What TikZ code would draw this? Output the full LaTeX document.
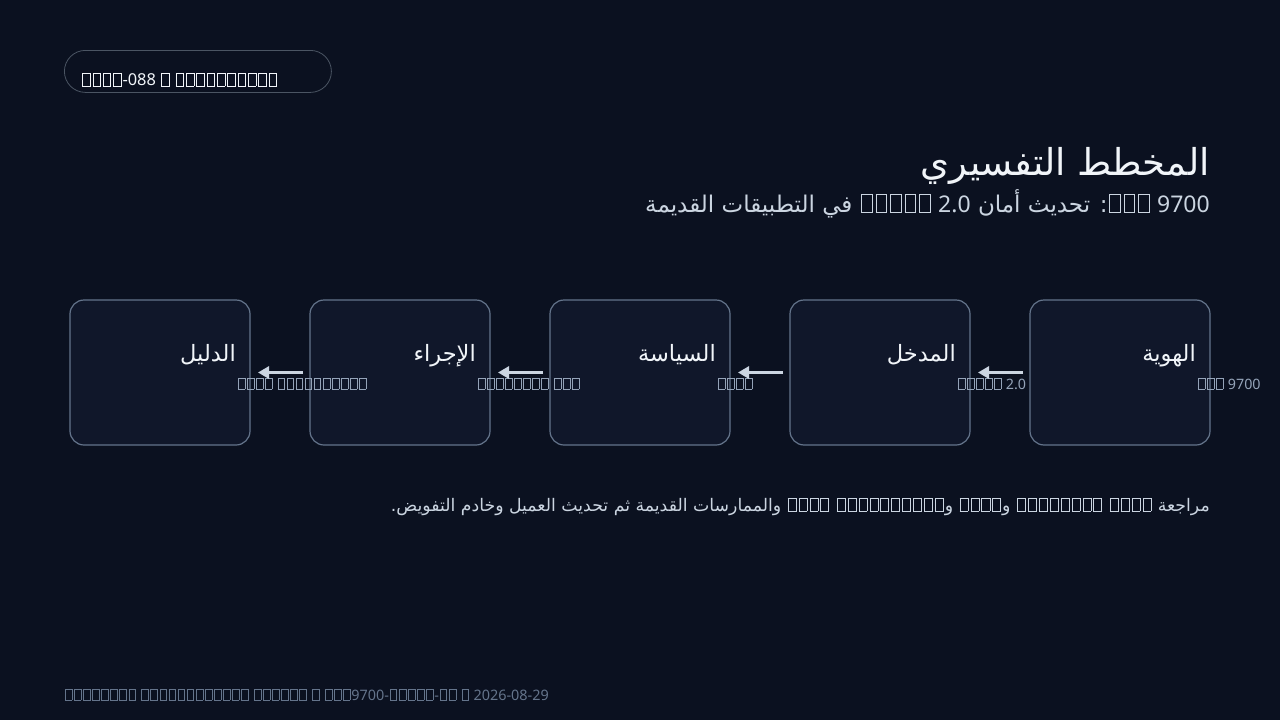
\documentclass[tikz,border=0pt]{standalone}
\usepackage{fontspec}
\setmainfont{Noto Sans}
\newfontfamily\arabicfont[Script=Arabic]{DejaVu Sans}
\TeXXeTstate=1
\usetikzlibrary{arrows.meta}
\usetikzlibrary{positioning}

\definecolor{bgcol}{HTML}{0B1120}
\definecolor{cardfill}{HTML}{10172A}
\definecolor{cardline}{HTML}{64748B}
\definecolor{pillline}{HTML}{4B5563}
\definecolor{arrowcol}{HTML}{CBD5E1}
\definecolor{titlecol}{HTML}{F1F5F9}
\definecolor{subcol}{HTML}{CBD5E1}
\definecolor{smallcol}{HTML}{94A3B8}
\definecolor{footcol}{HTML}{64748B}

% missing glyph box
\newcommand\tofu{{\fboxsep=0pt\fboxrule=0.045em\kern0.06em\fbox{\rule{0pt}{0.72em}\kern0.42em}\kern0.06em}}
\newcommand\tofus[1]{\foreach \t in {1,...,#1}{\tofu}}

\begin{document}
\begin{tikzpicture}[x=1pt,y=-1pt]
				\tikzstyle{card}=[draw=cardline,line width=1.2pt,fill=cardfill,rounded corners=14pt,minimum width=180pt,minimum height=145pt,inner sep=0pt,outer sep=0pt]
				\tikzstyle{cardtitle}=[text=titlecol,font=\fontsize{22.5}{26}\arabicfont,inner sep=0pt,anchor=base east]
				\tikzstyle{cardnote}=[text=smallcol,font=\fontsize{14.3}{17}\rmfamily,inner sep=0pt,anchor=base west]
				\tikzstyle{flow}=[draw=arrowcol,line width=3pt,-{Triangle[length=11pt,width=12pt]},shorten <=7pt,shorten >=8pt]
				\fill[bgcol] (0,0) rectangle (1280,720);
				\useasboundingbox (0,0) rectangle (1280,720);
				% tag
				\node[draw=pillline,line width=0.8pt,rounded corners=21pt,minimum width=267pt,minimum height=42pt,anchor=north west] (tag) at (64,50) {};
				\node[text=titlecol,font=\fontsize{16.4}{19}\rmfamily,inner sep=0pt,anchor=base west] (tagtext) at (81,85.5) {\tofus{4}-088 \tofu{} \tofus{10}};
				% heading
				\node[text=titlecol,font=\fontsize{37}{44}\arabicfont,inner sep=0pt,anchor=base east] (title) at (1210,175) {\beginR المخطط التفسيري\endR};
				\node[text=subcol,font=\fontsize{23}{28}\arabicfont,inner sep=0pt,anchor=base east] (subtitle) at (1210,212) {\beginR{\rmfamily\beginL\tofus{3} 9700\endL}: تحديث أمان {\rmfamily\beginL\tofus{5} 2.0\endL} في التطبيقات القديمة\endR};
				% cards
				\node[card] (hawiya) at (1120,372.5) {};
				\node[card,left=60pt of hawiya] (madkhal) {};
				\node[card,left=60pt of madkhal] (siyasa) {};
				\node[card,left=60pt of siyasa] (ijraa) {};
				\node[card,left=60pt of ijraa] (dalil) {};
				\node[cardtitle] (hawiyaT) at ([shift={(-14,61)}]hawiya.north east) {\beginR الهوية\endR};
				\node[cardtitle] (madkhalT) at ([shift={(-14,61)}]madkhal.north east) {\beginR المدخل\endR};
				\node[cardtitle] (siyasaT) at ([shift={(-14,61)}]siyasa.north east) {\beginR السياسة\endR};
				\node[cardtitle] (ijraaT) at ([shift={(-14,61)}]ijraa.north east) {\beginR الإجراء\endR};
				\node[cardtitle] (dalilT) at ([shift={(-14,61)}]dalil.north east) {\beginR الدليل\endR};
				\node[cardnote] (hawiyaN) at ([shift={(-13,89)}]hawiya.north east) {\tofus{3} 9700};
				\node[cardnote] (madkhalN) at ([shift={(-13,89)}]madkhal.north east) {\tofus{5} 2.0};
				\node[cardnote] (siyasaN) at ([shift={(-13,89)}]siyasa.north east) {\tofus{4}};
				\node[cardnote] (ijraaN) at ([shift={(-13,89)}]ijraa.north east) {\tofus{8} \tofus{3}};
				\node[cardnote] (dalilN) at ([shift={(-13,89)}]dalil.north east) {\tofus{4} \tofus{10}};
				\draw[flow] (hawiya) -- (madkhal);
				\draw[flow] (madkhal) -- (siyasa);
				\draw[flow] (siyasa) -- (ijraa);
				\draw[flow] (ijraa) -- (dalil);
				% summary and footer
				\node[text=subcol,font=\fontsize{17.3}{21}\arabicfont,inner sep=0pt,anchor=base east] (summary) at (1210,511) {\beginR مراجعة \tofus{4} \tofus{8} و\tofus{4} و\tofus{10} \tofus{4} والممارسات القديمة ثم تحديث العميل وخادم التفويض.\endR};
				\node[text=footcol,font=\fontsize{14.4}{17}\rmfamily,inner sep=0pt,anchor=base west] (footer) at (64,700) {\tofus{8} \tofus{12} \tofus{6} \tofu{} \tofus{3}9700-\tofus{5}-\tofus{2} \tofu{} 2026-08-29};
\end{tikzpicture}
\end{document}
